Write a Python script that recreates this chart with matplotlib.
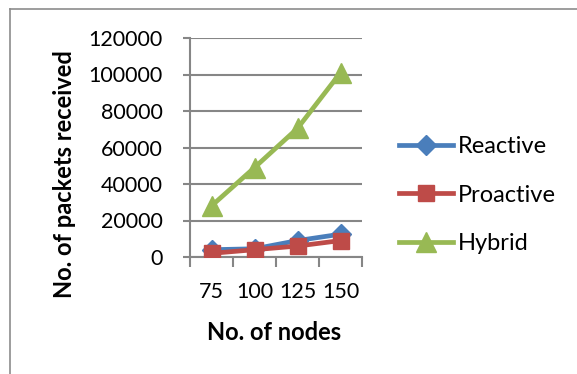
import matplotlib
matplotlib.use("Agg")
import matplotlib.pyplot as plt
from matplotlib.lines import Line2D

nodes = ["75", "100", "125", "150"]
reactive = [4000, 4500, 9000, 12500]
proactive = [2000, 4000, 6000, 9000]
hybrid = [28000, 49000, 70500, 101000]
y_ticks = [0, 20000, 40000, 60000, 80000, 100000, 120000]

plt.rcParams["font.family"] = ["Lato", "DejaVu Sans"]

W, H = 577, 374
fig = plt.figure(figsize=(W / 100, H / 100), dpi=100)
ax = fig.add_axes([190 / W, 1 - 257 / H, 172 / W, 219 / H])

grid_c = "#868686"
x = list(range(len(nodes)))
ax.plot(x, reactive, color="#4A7EBB", lw=3.4, marker="D", ms=10, label="Reactive", zorder=3)
ax.plot(x, proactive, color="#BE4B48", lw=3.4, marker="s", ms=11.5, label="Proactive", zorder=4)
ax.plot(x, hybrid, color="#98B954", lw=3.4, marker="^", ms=14, label="Hybrid", zorder=3)

ax.set_xlim(-0.5, len(nodes) - 0.5)
ax.set_ylim(0, 120000)
ax.set_yticks(y_ticks)
ax.set_yticklabels([str(v) for v in y_ticks], fontsize=15.5)
ax.set_xticks(x)
ax.set_xticklabels(nodes, fontsize=15.5)
ax.tick_params(axis="x", length=0, pad=18)
ax.set_xticks([i - 0.5 for i in range(len(nodes) + 1)], minor=True)
ax.tick_params(axis="x", which="minor", length=7, width=1.5, color=grid_c, direction="out")
ax.tick_params(axis="y", length=5, width=1.5, color=grid_c, pad=14.5)

ax.yaxis.grid(True, color=grid_c, lw=1.5)
ax.set_axisbelow(True)
for s in ["top", "right"]:
    ax.spines[s].set_visible(False)
for s in ["left", "bottom"]:
    ax.spines[s].set_color(grid_c)
    ax.spines[s].set_linewidth(1.5)

# axis titles
fig.text(72 / W, 1 - 174 / H, "No. of packets received", rotation=90,
         rotation_mode="anchor", ha="center", va="baseline",
         fontsize=17, fontweight="bold")
fig.text(274 / W, 1 - 340 / H, "No. of nodes", ha="center", va="baseline",
         fontsize=17, fontweight="bold")

ax.legend(loc="center left", bbox_to_anchor=(399 / W, 1 - 195 / H),
          bbox_transform=fig.transFigure, frameon=False, borderpad=0,
          borderaxespad=0, fontsize=17, handlelength=2.3,
          handletextpad=0.2, labelspacing=1.17)

# outer chart frame
fig.add_artist(Line2D([10 / W, 10 / W], [0, 1 - 9 / H], transform=fig.transFigure,
                      color="#8c8c8c", lw=1.2))
fig.add_artist(Line2D([10 / W, 1], [1 - 9 / H, 1 - 9 / H], transform=fig.transFigure,
                      color="#8c8c8c", lw=1.2))

fig.savefig("out.png", dpi=100)
